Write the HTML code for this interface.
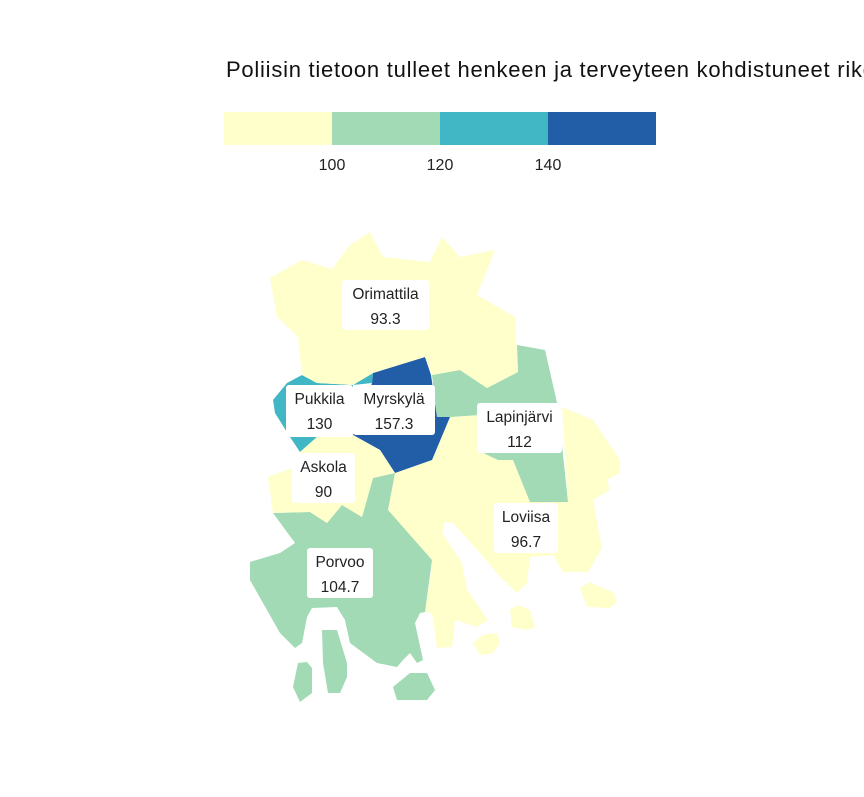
<!DOCTYPE html>
<html><head><meta charset="utf-8">
<style>
body{margin:0;background:#fff;overflow:hidden;}
svg text{font-family:"Liberation Sans",sans-serif;}
</style></head>
<body>
<svg id="chart" width="864" height="792" viewBox="0 0 864 792" xmlns="http://www.w3.org/2000/svg">
<text x="226" y="77" font-size="22" letter-spacing="0.75" fill="#111">Poliisin tietoon tulleet henkeen ja terveyteen kohdistuneet rikokset</text>
<g id="legend"></g>
<g id="map"></g>
<g id="labels"></g>
</svg>
<script>
const municipalities = ["Loviisa","Lapinjärvi","Porvoo","Myrskylä","Pukkila","Askola","Orimattila"];
const values = [96.7, 112, 104.7, 157.3, 130, 90, 93.3];
const breaks = [100, 120, 140];
const colors = ["#ffffcc","#a1dab4","#41b6c4","#225ea8"];

const shapes = {
 "Loviisa":[[[450,417],[480,415],[477,450],[498,460],[513,460],[530,502],[568,502],[562,407],[593,420],[620,460],[620,473],[607,480],[610,490],[593,500],[602,548],[588,572],[563,572],[553,555],[530,557],[527,583],[517,593],[500,577],[480,553],[453,523],[445,522],[442,533],[462,563],[467,590],[488,620],[477,627],[455,620],[452,647],[437,648],[432,613],[425,612],[432,567],[388,510],[395,473],[432,460]],
   [[473,643],[483,635],[497,633],[500,643],[493,653],[480,655]],
   [[510,610],[517,605],[530,610],[535,627],[527,630],[512,627]],
   [[580,588],[590,582],[600,587],[613,592],[617,602],[610,608],[587,607]]],
 "Lapinjärvi":[[[432,375],[460,370],[487,388],[518,372],[517,345],[545,350],[558,407],[568,502],[530,502],[513,460],[498,460],[477,450],[480,415],[450,417],[437,417]]],
 "Porvoo":[[[273,513],[310,512],[327,523],[342,505],[362,517],[373,478],[395,473],[388,510],[432,560],[425,612],[420,613],[415,623],[423,660],[417,663],[410,653],[403,660],[397,667],[377,663],[350,643],[345,620],[337,607],[312,608],[307,617],[302,643],[295,648],[280,633],[250,580],[250,562],[280,553],[295,543]],
   [[322,630],[337,630],[347,663],[347,677],[340,693],[328,693],[323,663]],
   [[298,663],[307,662],[312,668],[312,693],[300,702],[293,687]],
   [[393,687],[410,673],[427,673],[435,690],[427,700],[397,700]]],
 "Myrskylä":[[[373,373],[425,357],[431,375],[437,417],[450,417],[432,460],[395,473],[380,450],[353,435],[372,383]]],
 "Pukkila":[[[273,400],[287,383],[302,375],[317,383],[353,385],[353,435],[317,437],[300,452],[290,437],[275,413]],
   [[353,385],[373,373],[372,383]]],
 "Askola":[[[268,477],[292,468],[300,452],[317,437],[353,435],[380,450],[395,473],[373,478],[362,517],[342,505],[327,523],[310,512],[273,513]]],
 "Orimattila":[[[270,278],[302,260],[332,269],[350,245],[370,232],[383,257],[430,262],[442,237],[460,257],[495,250],[477,295],[515,317],[518,372],[487,388],[460,370],[432,375],[425,357],[373,373],[353,385],[317,383],[302,375],[298,337],[277,317]]]
};
const labelBoxes = {
 "Orimattila":[342,280,87,50],"Pukkila":[286,385,67,52],"Myrskylä":[353,385,82,50],
 "Lapinjärvi":[477,403,85,50],"Askola":[292,453,63,50],"Loviisa":[494,503,64,50],"Porvoo":[307,548,66,50]
};
const NS="http://www.w3.org/2000/svg";
function colorFor(v){let i=0;while(i<breaks.length&&v>=breaks[i])i++;return colors[i];}
const legendMin=80, legendMax=160, lx0=224, lx1=656;
function lx(v){return lx0+(v-legendMin)/(legendMax-legendMin)*(lx1-lx0);}
const legend=document.getElementById('legend');
const edges=[legendMin,...breaks,legendMax];
for(let i=0;i<colors.length;i++){
 const r=document.createElementNS(NS,'rect');
 r.setAttribute('x',lx(edges[i]));r.setAttribute('y',112);
 r.setAttribute('width',lx(edges[i+1])-lx(edges[i]));r.setAttribute('height',33);
 r.setAttribute('fill',colors[i]);
 
 
 legend.appendChild(r);
}
breaks.forEach(b=>{
 const t=document.createElementNS(NS,'text');
 t.setAttribute('x',lx(b));t.setAttribute('y',170);t.setAttribute('font-size',16);
 t.setAttribute('text-anchor','middle');t.setAttribute('fill','#222');t.textContent=b;
 
 
 legend.appendChild(t);
});
const map=document.getElementById('map'), labels=document.getElementById('labels');
municipalities.forEach((m,i)=>{
 shapes[m].forEach(poly=>{
  const p=document.createElementNS(NS,'polygon');
  p.setAttribute('points',poly.map(q=>q.join(',')).join(' '));
  p.setAttribute('fill',colorFor(values[i]));
  
  
  map.appendChild(p);
 });
});
municipalities.forEach((m,i)=>{
 const b=labelBoxes[m];
 const g=document.createElementNS(NS,'g');
 
 
 const r=document.createElementNS(NS,'rect');
 r.setAttribute('x',b[0]);r.setAttribute('y',b[1]);r.setAttribute('width',b[2]);r.setAttribute('height',b[3]);
 r.setAttribute('rx',3);r.setAttribute('fill','#fff');
 g.appendChild(r);
 const t1=document.createElementNS(NS,'text');
 t1.setAttribute('x',b[0]+b[2]/2);t1.setAttribute('y',b[1]+19);t1.setAttribute('font-size',15.5);
 t1.setAttribute('text-anchor','middle');t1.setAttribute('fill','#222');t1.textContent=m;
 g.appendChild(t1);
 const t2=document.createElementNS(NS,'text');
 t2.setAttribute('x',b[0]+b[2]/2);t2.setAttribute('y',b[1]+44);t2.setAttribute('font-size',15.5);
 t2.setAttribute('text-anchor','middle');t2.setAttribute('fill','#222');t2.textContent=values[i];
 g.appendChild(t2);
 labels.appendChild(g);
});
</script>
</body></html>
